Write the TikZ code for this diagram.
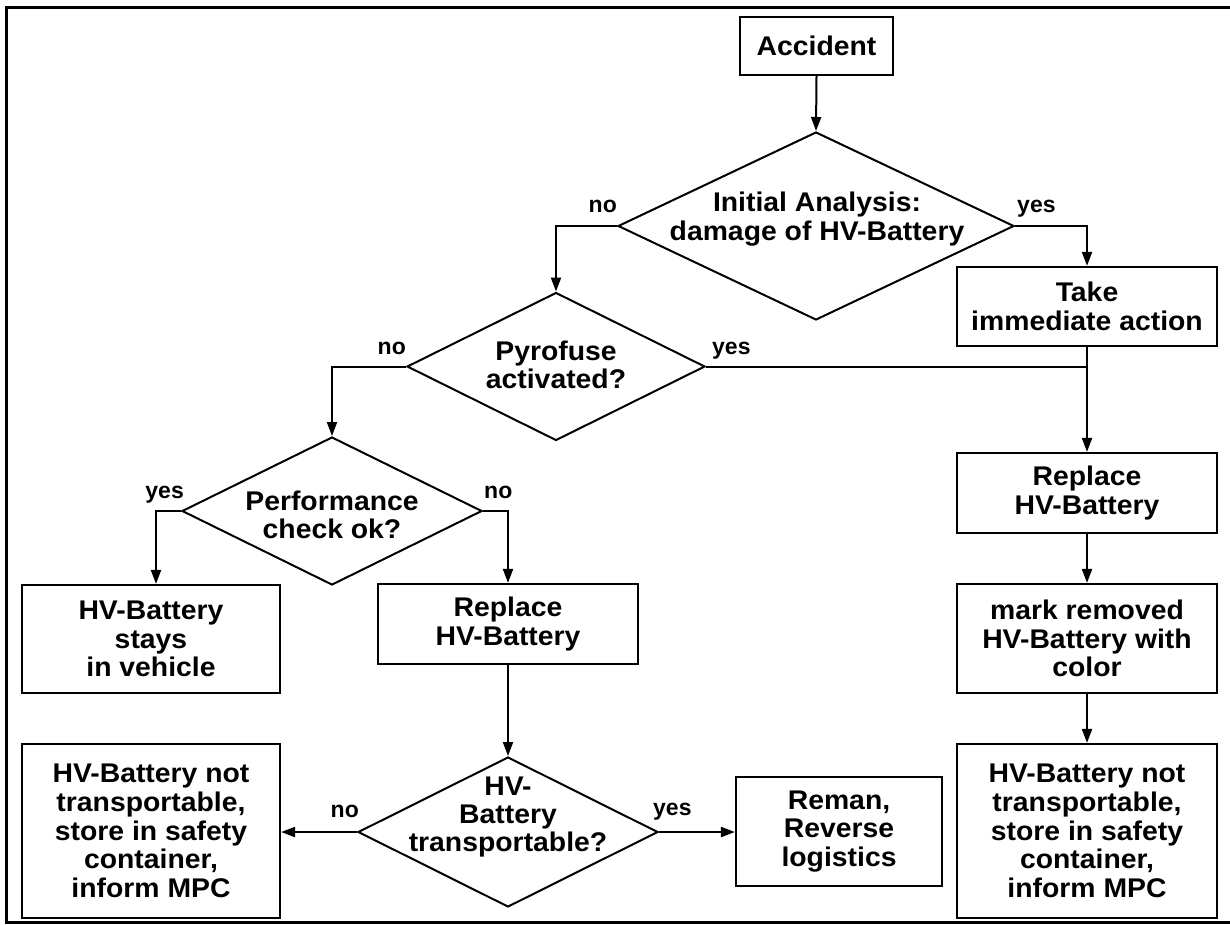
\documentclass[tikz,border=0pt]{standalone}
\usepackage{fontspec}
\setmainfont{Liberation Sans}[FakeStretch=1.05]
\newfontfamily\lblfont{Liberation Sans}
\usetikzlibrary{shapes.geometric,arrows.meta,calc}
\begin{document}
\begin{tikzpicture}[x=1pt,y=-1pt,
  box/.style={draw, line width=2.2pt, rectangle, inner sep=0pt, align=center,
    font=\fontsize{27}{28.7}\selectfont\bfseries},
  dia/.style={draw, line width=2pt, diamond, inner sep=0pt},
  dtext/.style={align=center, inner sep=0pt, font=\fontsize{27}{28.2}\selectfont\bfseries},
  lbl/.style={inner sep=0pt, font=\lblfont\fontsize{23}{26}\selectfont\bfseries},
  conn/.style={line width=2pt},
  arr/.style={conn, -{Triangle[length=14pt,width=10pt]}},
]
\useasboundingbox (0,0) rectangle (1230,924);
\clip (0,0) rectangle (1230,924);
\draw[line width=3pt] (6.5,7.5) rectangle (1250,922.5);

% boxes
\node[box, minimum width=153pt, minimum height=58pt] (acc) at (816.5,46) {Accident};
\node[box, minimum width=260pt, minimum height=79pt] (take) at (1087,306.5) {Take\\immediate action};
\node[box, minimum width=260pt, minimum height=80pt] (rep1) at (1087,493) {Replace\\HV-Battery};
\node[box, minimum width=258pt, minimum height=108pt] (stays) at (151,639) {HV-Battery\\stays\\in vehicle};
\node[box, minimum width=260pt, minimum height=80pt] (rep2) at (508,624) {Replace\\HV-Battery};
\node[box, minimum width=260pt, minimum height=109pt] (mark) at (1087,638.5) {mark removed\\HV-Battery with\\color};
\node[box, minimum width=206pt, minimum height=109pt] (reman) at (839,831.5) {Reman,\\Reverse\\logistics};
\node[box, minimum width=258pt, minimum height=174pt] (notl) at (151,831) {HV-Battery not\\transportable,\\store in safety\\container,\\inform MPC};
\node[box, minimum width=260pt, minimum height=174pt] (notr) at (1087,831) {HV-Battery not\\transportable,\\store in safety\\container,\\inform MPC};

% decisions
\node[dia, minimum width=396pt, minimum height=188pt] (d1) at (816,226) {};
\node[dtext] (d1t) at (817,219) {Initial Analysis:\\damage of HV-Battery};
\node[dia, minimum width=298pt, minimum height=148pt] (d2) at (556,366.5) {};
\node[dtext] (d2t) at (556,364.5) {Pyrofuse\\activated?};
\node[dia, minimum width=300pt, minimum height=148pt] (d3) at (332,511) {};
\node[dtext] (d3t) at (332,514.5) {Performance\\check ok?};
\node[dia, minimum width=300pt, minimum height=150pt] (d4) at (508,832) {};
\node[dtext] (d4t) at (508,817) {HV-\\Battery\\transportable?};

% connectors
\draw[arr] (acc.south) -- (d1.north);
\draw[arr] (d1.west) -| (d2.north);
\draw[arr] (d1.east) -| (take.north);
\draw[arr] (d2.west) -| (d3.north);
\draw[conn] (d2.east) -- (d2.east -| take.south);
\draw[arr] (take.south) -- (rep1.north);
\draw[arr] (d3.west) -| ([xshift=5pt]stays.north);
\draw[arr] (d3.east) -| (rep2.north);
\draw[arr] (rep2.south) -- (d4.north);
\draw[arr] (d4.west) -- (d4.west -| notl.east);
\draw[arr] (d4.east) -- (d4.east -| reman.west);
\draw[arr] (rep1.south) -- (mark.north);
\draw[arr] (mark.south) -- (notr.north);

% labels
\node[lbl, anchor=base east] (l1n) at ($(d1.west)+(0,-14)$) {no};
\node[lbl, anchor=base west] (l1y) at ($(d1.east)+(2,-14)$) {yes};
\node[lbl, anchor=base east] (l2n) at ($(d2.west)+(0,-12)$) {no};
\node[lbl, anchor=base west] (l2y) at ($(d2.east)+(6,-12)$) {yes};
\node[lbl, anchor=base east] (l3y) at ($(d3.west)+(3,-13)$) {yes};
\node[lbl, anchor=base west] (l3n) at ($(d3.east)+(1,-13)$) {no};
\node[lbl, anchor=base east] (l4n) at ($(d4.west)+(2,-15)$) {no};
\node[lbl, anchor=base west] (l4y) at ($(d4.east)+(-6,-17)$) {yes};
\end{tikzpicture}
\end{document}
